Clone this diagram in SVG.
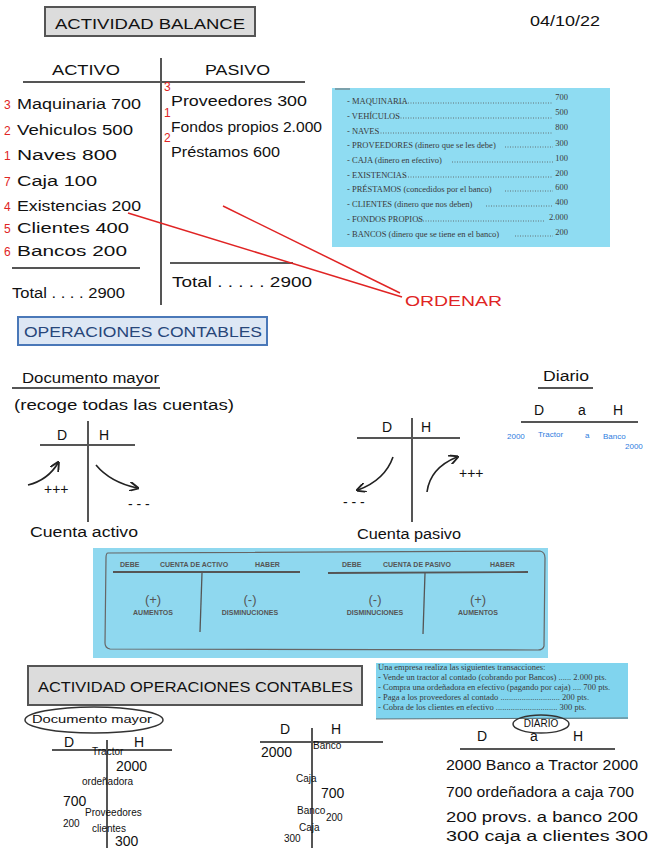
<svg xmlns="http://www.w3.org/2000/svg" width="656" height="848" viewBox="0 0 656 848">
<style>
.hw{font-family:"Liberation Sans",Arial,sans-serif;font-size:14px;fill:#111}
.sm{font-family:"Liberation Sans",Arial,sans-serif;font-size:10px;fill:#111}
.red{font-family:"Liberation Sans",Arial,sans-serif;font-size:12px;fill:#e02424}
.ser{font-family:"Liberation Serif","Times New Roman",serif;font-size:8.5px;fill:#3a3a3a}
.cap{font-family:"Liberation Sans",Arial,sans-serif;font-size:7px;fill:#555;font-weight:bold}
.cap2{font-family:"Liberation Sans",Arial,sans-serif;font-size:13px;fill:#555}
.ln{stroke:#555;stroke-width:2;fill:none}
.dk{stroke:#222;stroke-width:1.6;fill:none}
.rl{stroke:#e02424;stroke-width:1.5;fill:none}
.dot{stroke:#555;stroke-width:0.8;stroke-dasharray:1 1.5}
.blu{font-family:"Liberation Sans",Arial,sans-serif;font-size:8px;fill:#2e7de0}
</style>
<defs>
<marker id="ah" viewBox="0 0 10 10" refX="8" refY="5" markerWidth="6" markerHeight="6" orient="auto"><path d="M0,0 L10,5 L0,10" fill="none" stroke="#222" stroke-width="2"/></marker>
</defs>
<rect width="656" height="848" fill="#fff"/>

<!-- Balance -->
<g id="title-balance">
<rect x="45" y="7" width="210" height="29" fill="#dcdcdc" stroke="#555" stroke-width="2"/>
<text class="hw" x="55" y="29" font-size="17" textLength="190" lengthAdjust="spacingAndGlyphs">ACTIVIDAD BALANCE</text>
</g>
<g id="date"><text class="hw" x="530" y="26" font-size="15" textLength="70" lengthAdjust="spacingAndGlyphs">04/10/22</text></g>

<g id="balance-table">
<text class="hw" x="52" y="75" textLength="68" lengthAdjust="spacingAndGlyphs">ACTIVO</text>
<text class="hw" x="205" y="75" textLength="65" lengthAdjust="spacingAndGlyphs">PASIVO</text>
<line class="ln" x1="23" y1="82" x2="305" y2="82"/>
<line class="ln" x1="161" y1="58" x2="161" y2="305"/>
<text class="red" x="4" y="109">3</text><text class="hw" x="17" y="109" textLength="124" lengthAdjust="spacingAndGlyphs">Maquinaria 700</text>
<text class="red" x="4" y="135">2</text><text class="hw" x="17" y="135" textLength="116" lengthAdjust="spacingAndGlyphs">Vehiculos 500</text>
<text class="red" x="4" y="160">1</text><text class="hw" x="17" y="160" textLength="100" lengthAdjust="spacingAndGlyphs">Naves  800</text>
<text class="red" x="4" y="186">7</text><text class="hw" x="17" y="186" textLength="80" lengthAdjust="spacingAndGlyphs">Caja 100</text>
<text class="red" x="4" y="211">4</text><text class="hw" x="17" y="211" textLength="124" lengthAdjust="spacingAndGlyphs">Existencias 200</text>
<text class="red" x="4" y="233">5</text><text class="hw" x="17" y="233" textLength="112" lengthAdjust="spacingAndGlyphs">Clientes  400</text>
<text class="red" x="4" y="256">6</text><text class="hw" x="17" y="256" textLength="110" lengthAdjust="spacingAndGlyphs">Bancos 200</text>
<line class="ln" x1="12" y1="268" x2="140" y2="268"/>
<text class="hw" x="12" y="298" font-size="12" textLength="113" lengthAdjust="spacingAndGlyphs">Total . . . . 2900</text>
<text class="red" x="164" y="91" font-size="8">3</text><text class="hw" x="171" y="106" textLength="136" lengthAdjust="spacingAndGlyphs">Proveedores 300</text>
<text class="red" x="164" y="117" font-size="8">1</text><text class="hw" x="171" y="132" textLength="151" lengthAdjust="spacingAndGlyphs">Fondos propios 2.000</text>
<text class="red" x="164" y="142" font-size="8">2</text><text class="hw" x="171" y="157" textLength="109" lengthAdjust="spacingAndGlyphs">Préstamos 600</text>
<line x1="170" y1="263" x2="293" y2="263" stroke="#222" stroke-width="1.5"/>
<text class="hw" x="172" y="287" font-size="12" textLength="140" lengthAdjust="spacingAndGlyphs">Total . . . . . 2900</text>
</g>

<g id="ordenar">
<line class="rl" x1="128" y1="213" x2="402" y2="297"/>
<line class="rl" x1="223" y1="206" x2="400" y2="293"/>
<text class="hw" x="405" y="306" font-size="16" style="fill:#e02424" textLength="97" lengthAdjust="spacingAndGlyphs">ORDENAR</text>
</g>

<g id="blue-list">
<rect x="332" y="88" width="278" height="159" fill="#8fdcf2"/>
<line x1="335" y1="89" x2="350" y2="89" stroke="#666" stroke-width="1"/>
<g>
<text class="ser" x="347" y="104">- MAQUINARIA</text><line class="dot" x1="398" y1="103" x2="553" y2="103"/><text class="ser" x="568" y="100" text-anchor="end">700</text>
<text class="ser" x="347" y="119">- VEHÍCULOS</text><line class="dot" x1="393" y1="118" x2="553" y2="118"/><text class="ser" x="568" y="115" text-anchor="end">500</text>
<text class="ser" x="347" y="134">- NAVES</text><line class="dot" x1="378" y1="133" x2="553" y2="133"/><text class="ser" x="568" y="130" text-anchor="end">800</text>
<text class="ser" x="347" y="148">- PROVEEDORES (dinero que se les debe)</text><line class="dot" x1="505" y1="147" x2="553" y2="147"/><text class="ser" x="568" y="146" text-anchor="end">300</text>
<text class="ser" x="347" y="163">- CAJA (dinero en efectivo)</text><line class="dot" x1="452" y1="162" x2="553" y2="162"/><text class="ser" x="568" y="161" text-anchor="end">100</text>
<text class="ser" x="347" y="178">- EXISTENCIAS</text><line class="dot" x1="403" y1="177" x2="553" y2="177"/><text class="ser" x="568" y="176" text-anchor="end">200</text>
<text class="ser" x="347" y="192">- PRÉSTAMOS (concedidos por el banco)</text><line class="dot" x1="505" y1="191" x2="553" y2="191"/><text class="ser" x="568" y="190" text-anchor="end">600</text>
<text class="ser" x="347" y="207">- CLIENTES (dinero que nos deben)</text><line class="dot" x1="486" y1="206" x2="553" y2="206"/><text class="ser" x="568" y="205" text-anchor="end">400</text>
<text class="ser" x="347" y="222">- FONDOS PROPIOS</text><line class="dot" x1="418" y1="221" x2="545" y2="221"/><text class="ser" x="568" y="220" text-anchor="end">2.000</text>
<text class="ser" x="347" y="237">- BANCOS (dinero que se tiene en el banco)</text><line class="dot" x1="515" y1="236" x2="553" y2="236"/><text class="ser" x="568" y="235" text-anchor="end">200</text>
</g>
</g>

<!-- Operaciones contables -->
<g id="title-operaciones">
<rect x="18" y="317" width="249" height="28" fill="#dde7f4" stroke="#4a78b8" stroke-width="2"/>
<text class="hw" x="24" y="337" font-size="15" style="fill:#27467a" textLength="238" lengthAdjust="spacingAndGlyphs">OPERACIONES CONTABLES</text>
</g>

<g id="documento-mayor">
<text class="hw" x="22" y="383" textLength="137" lengthAdjust="spacingAndGlyphs">Documento mayor</text>
<line class="ln" x1="12" y1="388" x2="160" y2="388"/>
<text class="hw" x="14" y="410" font-size="12" textLength="220" lengthAdjust="spacingAndGlyphs">(recoge todas las cuentas)</text>
</g>

<g id="cuenta-activo">
<text class="hw" x="57" y="440" font-size="16">D</text>
<text class="hw" x="99" y="440" font-size="16">H</text>
<line class="ln" x1="40" y1="445" x2="135" y2="445"/>
<line class="ln" x1="88" y1="421" x2="88" y2="522"/>
<path class="dk" d="M28,485 Q48,480 58,463" marker-end="url(#ah)"/>
<text class="hw" x="44" y="494" font-size="13">+++</text>
<path class="dk" d="M96,465 Q110,482 137,488" marker-end="url(#ah)"/>
<text class="hw" x="128" y="509" font-size="14">- - -</text>
<text class="hw" x="30" y="537" font-size="12" textLength="108" lengthAdjust="spacingAndGlyphs">Cuenta  activo</text>
</g>

<g id="cuenta-pasivo">
<text class="hw" x="382" y="432" font-size="16">D</text>
<text class="hw" x="421" y="432" font-size="16">H</text>
<line class="ln" x1="357" y1="438" x2="460" y2="438"/>
<line class="ln" x1="412" y1="418" x2="412" y2="522"/>
<path class="dk" d="M393,457 Q385,480 358,490" marker-end="url(#ah)"/>
<text class="hw" x="343" y="507" font-size="14">- - -</text>
<path class="dk" d="M427,492 Q430,468 457,457" marker-end="url(#ah)"/>
<text class="hw" x="459" y="478" font-size="13">+++</text>
<text class="hw" x="357" y="539" font-size="12" textLength="104" lengthAdjust="spacingAndGlyphs">Cuenta pasivo</text>
</g>

<g id="diario">
<text class="hw" x="543" y="381" textLength="46" lengthAdjust="spacingAndGlyphs">Diario</text>
<line class="ln" x1="538" y1="388" x2="593" y2="388"/>
<text class="hw" x="534" y="415" font-size="16">D</text>
<text class="hw" x="578" y="415" font-size="14">a</text>
<text class="hw" x="613" y="415" font-size="16">H</text>
<line class="ln" x1="521" y1="422" x2="638" y2="422"/>
<text class="blu" x="507" y="439">2000</text>
<text class="blu" x="538" y="437">Tractor</text>
<text class="blu" x="585" y="438">a</text>
<text class="blu" x="603" y="439">Banco</text>
<text class="blu" x="625" y="449">2000</text>
</g>

<g id="blue-cuentas">
<rect x="93" y="548" width="455" height="110" fill="#8fd8ef"/>
<path d="M108,553 L540,551 Q545,552 545,558 L544,646 Q543,650 538,650 L110,649 Q105,648 105,643 L106,558 Q106,553 108,553 Z" fill="none" stroke="#666" stroke-width="1.2"/>
<text class="cap" x="120" y="567">DEBE</text>
<text class="cap" x="160" y="567">CUENTA DE ACTIVO</text>
<text class="cap" x="255" y="567">HABER</text>
<line x1="113" y1="572" x2="300" y2="572" stroke="#555" stroke-width="1.8"/>
<line x1="202" y1="573" x2="200" y2="632" stroke="#555" stroke-width="1.3"/>
<text class="cap2" x="153" y="604" text-anchor="middle">(+)</text>
<text class="cap" x="153" y="615" text-anchor="middle" font-weight="normal">AUMENTOS</text>
<text class="cap2" x="250" y="604" text-anchor="middle">(-)</text>
<text class="cap" x="250" y="615" text-anchor="middle" font-weight="normal">DISMINUCIONES</text>
<text class="cap" x="342" y="567">DEBE</text>
<text class="cap" x="383" y="567">CUENTA DE PASIVO</text>
<text class="cap" x="490" y="567">HABER</text>
<line x1="328" y1="573" x2="528" y2="572" stroke="#555" stroke-width="1.8"/>
<line x1="425" y1="573" x2="423" y2="634" stroke="#555" stroke-width="1.3"/>
<text class="cap2" x="375" y="604" text-anchor="middle">(-)</text>
<text class="cap" x="375" y="615" text-anchor="middle" font-weight="normal">DISMINUCIONES</text>
<text class="cap2" x="478" y="604" text-anchor="middle">(+)</text>
<text class="cap" x="478" y="615" text-anchor="middle" font-weight="normal">AUMENTOS</text>
</g>

<!-- Actividad operaciones -->
<g id="title-actividad-operaciones">
<rect x="28" y="666" width="334" height="39" fill="#dcdcdc" stroke="#555" stroke-width="2"/>
<text class="hw" x="38" y="692" font-size="15" textLength="315" lengthAdjust="spacingAndGlyphs">ACTIVIDAD OPERACIONES CONTABLES</text>
</g>

<g id="mayor-ellipse">
<ellipse cx="94" cy="720" rx="69" ry="13" fill="none" stroke="#333" stroke-width="1.5"/>
<text class="sm" x="32" y="723" font-size="9" textLength="120" lengthAdjust="spacingAndGlyphs">Documento mayor</text>
</g>

<g id="t-mayor-1">
<text class="hw" x="64" y="747" font-size="15">D</text>
<text class="hw" x="134" y="747" font-size="15">H</text>
<line class="ln" x1="52" y1="750" x2="172" y2="750"/>
<line class="ln" x1="107" y1="740" x2="107" y2="848"/>
<text class="sm" x="92" y="755" font-size="7">Tractor</text>
<text class="hw" x="116" y="771" font-size="13">2000</text>
<text class="sm" x="82" y="785" font-size="8">ordeñadora</text>
<text class="hw" x="63" y="806" font-size="11">700</text>
<text class="sm" x="85" y="816" font-size="9">Proveedores</text>
<text class="sm" x="63" y="827" font-size="7">200</text>
<text class="sm" x="92" y="832" font-size="8">clientes</text>
<text class="hw" x="115" y="846" font-size="12">300</text>
</g>

<g id="t-mayor-2">
<text class="hw" x="280" y="734" font-size="17">D</text>
<text class="hw" x="331" y="734" font-size="17">H</text>
<line class="ln" x1="260" y1="742" x2="383" y2="742"/>
<line class="ln" x1="312" y1="728" x2="312" y2="848"/>
<text class="hw" x="261" y="757" font-size="11">2000</text>
<text class="sm" x="313" y="749" font-size="7">Banco</text>
<text class="sm" x="296" y="782" font-size="9">Caja</text>
<text class="hw" x="321" y="798" font-size="13">700</text>
<text class="sm" x="297" y="814" font-size="9">Banco</text>
<text class="sm" x="326" y="821" font-size="7">200</text>
<text class="sm" x="299" y="831" font-size="7">Caja</text>
<text class="sm" x="284" y="842" font-size="8">300</text>
</g>

<g id="enunciado">
<rect x="376" y="663" width="252" height="56" fill="#80d4ee"/>
<line x1="376" y1="719" x2="628" y2="718" stroke="#555" stroke-width="0.8"/>
<text class="ser" x="378" y="670" font-size="8">Una empresa realiza las siguientes transacciones:</text>
<text class="ser" x="378" y="680" font-size="8">- Vende un tractor al contado (cobrando por Bancos) ...... 2.000 pts.</text>
<text class="ser" x="378" y="690" font-size="8">- Compra una ordeñadora en efectivo (pagando por caja) .... 700 pts.</text>
<text class="ser" x="378" y="700" font-size="8">- Paga a los proveedores al contado ............................ 200 pts.</text>
<text class="ser" x="378" y="710" font-size="8">- Cobra de los clientes en efectivo ............................. 300 pts.</text>
</g>

<g id="diario-2">
<ellipse cx="541" cy="724" rx="28" ry="9" fill="none" stroke="#333" stroke-width="1.5"/>
<text class="sm" x="541" y="727" font-size="7.5" text-anchor="middle">DIARIO</text>
<text class="hw" x="477" y="741" font-size="15">D</text>
<text class="hw" x="530" y="741" font-size="14">a</text>
<text class="hw" x="573" y="741" font-size="15">H</text>
<line class="ln" x1="460" y1="749" x2="615" y2="749"/>
<text class="hw" x="446" y="770" font-size="10" textLength="192" lengthAdjust="spacingAndGlyphs">2000 Banco   a  Tractor 2000</text>
<text class="hw" x="446" y="797" font-size="13" textLength="188" lengthAdjust="spacingAndGlyphs">700 ordeñadora  a  caja 700</text>
<text class="hw" x="446" y="822" font-size="13" textLength="192" lengthAdjust="spacingAndGlyphs">200  provs.  a banco 200</text>
<text class="hw" x="446" y="841" font-size="13" textLength="202" lengthAdjust="spacingAndGlyphs">300 caja  a clientes 300</text>
</g>
</svg>
